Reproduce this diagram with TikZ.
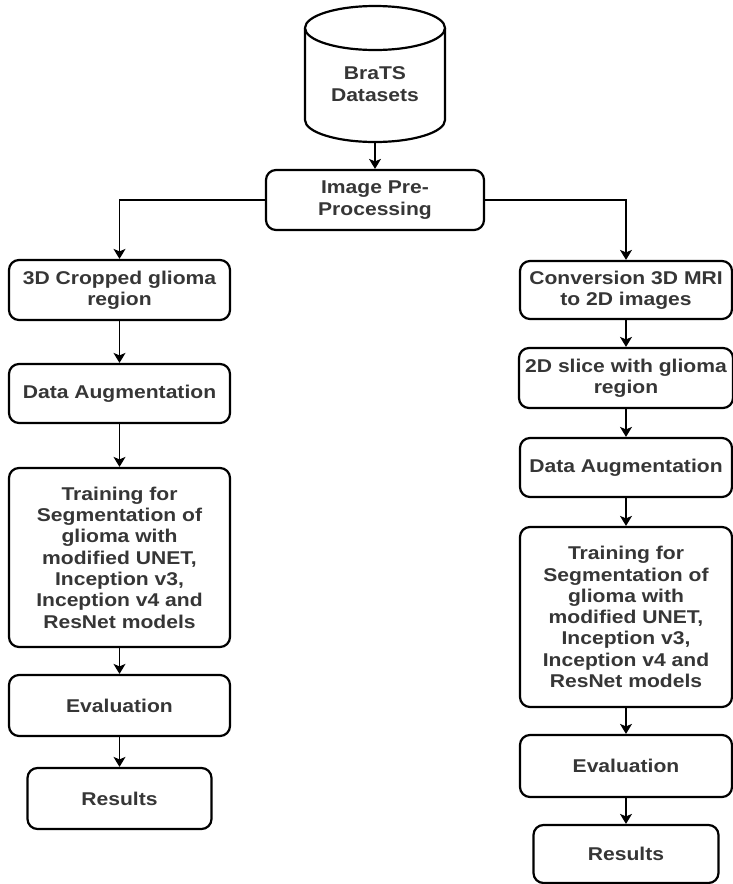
\documentclass[tikz,border=0pt]{standalone}
\usepackage{fontspec}
\setmainfont{Liberation Sans}[FakeStretch=1.14]
\usetikzlibrary{arrows.meta}
\definecolor{txt}{HTML}{363636}
\tikzset{
  labelfont/.style={font={\fontsize{18.5}{21.3}\selectfont\bfseries}},
  box/.style={draw=black, line width=2.2pt, rounded corners=10pt, fill=white,
    align=center, text=txt, inner sep=0pt, labelfont},
  flow/.style={line width=1.4pt, -{Stealth[length=10pt,width=12pt,inset=2.5pt]}},
}
\begin{document}
\begin{tikzpicture}[x=1pt,y=1pt]
\useasboundingbox (0,0) rectangle (732,-884);
\fill[white] (0,0) rectangle (732,-884);

% database cylinder
\draw[line width=2.2pt, fill=white]
  (305,-28) -- (305,-120) arc[start angle=180, end angle=360, x radius=70pt, y radius=22pt]
  -- (445,-28);
\draw[line width=2.2pt, fill=white] (375,-28) ellipse [x radius=70pt, y radius=22pt];
\node[align=center, text=txt, labelfont] (db) at (375,-84) {BraTS\\Datasets};
\coordinate (dbbot) at (375,-142);

% pre-processing
\node[box, minimum width=218pt, minimum height=60pt] (pre) at (375,-200) {Image Pre-\\Processing};

% left branch
\node[box, minimum width=221pt, minimum height=60pt] (crop) at (119.5,-290) {3D Cropped glioma\\region};
\node[box, minimum width=221pt, minimum height=59pt] (augL) at (119.5,-393.5) {Data Augmentation};
\node[box, minimum width=221pt, minimum height=179pt] (trainL) at (119.5,-557.5)
  {Training for\\Segmentation of\\glioma with\\modified UNET,\\Inception v3,\\Inception v4 and\\ResNet models};
\node[box, minimum width=221pt, minimum height=61pt] (evalL) at (119.5,-705.5) {Evaluation};
\node[box, minimum width=184pt, minimum height=61pt] (resL) at (119.5,-798.5) {Results};

% right branch
\node[box, minimum width=212pt, minimum height=58pt] (conv) at (626,-290) {Conversion 3D MRI\\to 2D images};
\node[box, minimum width=214pt, minimum height=60pt] (slice) at (626,-378) {2D slice with glioma\\region};
\node[box, minimum width=212pt, minimum height=59pt] (augR) at (626,-467.5) {Data Augmentation};
\node[box, minimum width=212pt, minimum height=180pt] (trainR) at (626,-617)
  {Training for\\Segmentation of\\glioma with\\modified UNET,\\Inception v3,\\Inception v4 and\\ResNet models};
\node[box, minimum width=212pt, minimum height=62pt] (evalR) at (626,-766) {Evaluation};
\node[box, minimum width=185pt, minimum height=58pt] (resR) at (626,-854) {Results};

% connectors
\draw[flow] (dbbot) -- (pre.north);
\draw[flow] (pre.west) -| (crop.north);
\draw[flow] (pre.east) -| (conv.north);
\draw[flow] (crop) -- (augL);
\draw[flow] (augL) -- (trainL);
\draw[flow] (trainL) -- (evalL);
\draw[flow] (evalL) -- (resL);
\draw[flow] (conv) -- (slice);
\draw[flow] (slice) -- (augR);
\draw[flow] (augR) -- (trainR);
\draw[flow] (trainR) -- (evalR);
\draw[flow] (evalR) -- (resR);
\end{tikzpicture}
\end{document}
